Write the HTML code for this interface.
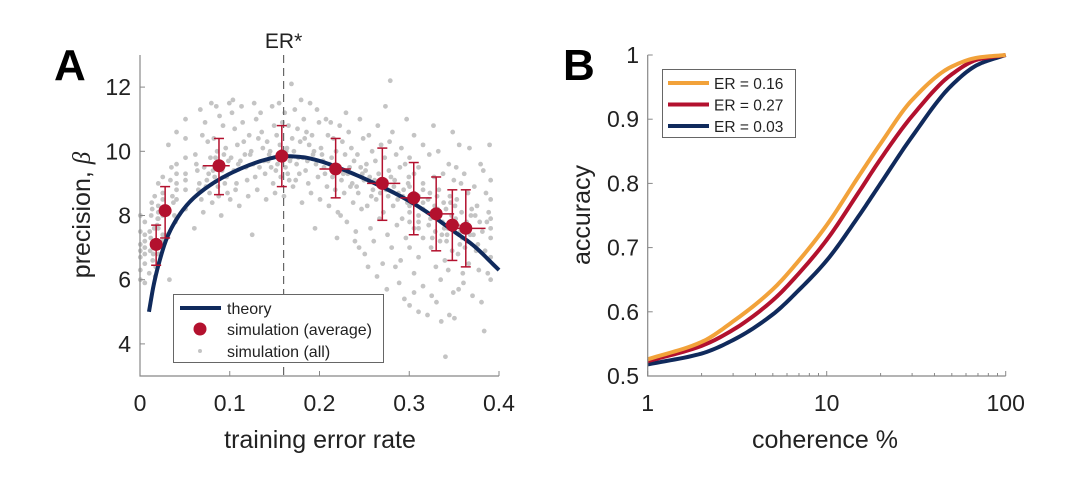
<!DOCTYPE html>
<html><head><meta charset="utf-8"><style>
html,body{margin:0;padding:0;background:#fff;}
svg{display:block;font-family:"Liberation Sans",Arial,sans-serif;}
</style></head><body>
<svg id="fig" width="1080" height="480" viewBox="0 0 1080 480">
<g id="pa"></g>
<g id="pb"></g>
</svg>
<script>
// ---------- Panel A data ----------
const theoryX = [0.01,0.015,0.02,0.03,0.04,0.05,0.06,0.08,0.1,0.12,0.14,0.16,0.18,0.2,0.22,0.25,0.28,0.3,0.32,0.35,0.37,0.4];
const theoryY = [5.0,5.8,6.4,7.3,7.85,8.25,8.55,8.98,9.3,9.55,9.74,9.85,9.82,9.7,9.5,9.15,8.75,8.45,8.1,7.5,7.1,6.3];
const avgX = [0.018,0.028,0.088,0.158,0.218,0.27,0.305,0.33,0.348,0.363];
const avgY = [7.1,8.15,9.55,9.85,9.45,9.0,8.55,8.05,7.7,7.6];
const avgYLo = [6.45,7.3,8.65,8.9,8.55,7.85,7.4,6.9,6.6,6.4];
const avgYHi = [7.7,8.9,10.4,10.8,10.4,10.1,9.65,9.2,8.8,8.8];
const avgXLo = [0.018,0.028,0.07,0.158,0.2,0.253,0.29,0.32,0.34,0.35];
const avgXHi = [0.018,0.028,0.1,0.158,0.235,0.29,0.325,0.35,0.356,0.385];
// simulation (all): x-bin start (width 0.01) and the y values observed in each bin
const simBinX = [0.0,0.01,0.02,0.03,0.04,0.05,0.06,0.07,0.08,0.09,0.10,0.11,0.12,0.13,0.14,0.15,0.16,0.17,0.18,0.19,0.20,0.21,0.22,0.23,0.24,0.25,0.26,0.27,0.28,0.29,0.30,0.31,0.32,0.33,0.34,0.35,0.36,0.37,0.38,0.39];
const simBinY = [
[6.0,6.5,6.9,7.2,7.5,7.8,6.3,7.0,6.7,7.4,8.0,5.9,7.1,6.8],
[6.2,6.6,7.0,7.3,7.6,7.9,8.2,6.4,6.9,7.2,7.7,8.4,6.1,7.5,6.8,7.1,8.0,8.6],
[6.8,7.2,7.6,8.0,8.3,8.7,9.0,7.4,7.9,8.5,6.5,7.1,8.1,9.2],
[7.4,8.0,8.6,9.1,10.2,7.8,8.4,9.5,6.0],
[7.9,8.5,9.0,9.6,10.6,8.8,9.3],
[8.2,8.8,9.3,9.8,10.4,11.0,9.1],
[7.6,8.5,9.0,9.4,9.9,10.5,11.3,8.8,9.6],
[8.1,8.7,9.1,9.5,9.8,10.3,10.9,11.5,9.3,8.9],
[8.4,8.9,9.2,9.6,10.0,10.4,11.1,11.4,9.4,8.6,9.8],
[8.0,8.7,9.0,9.4,9.7,10.1,10.8,11.5,9.2,9.9],
[8.5,9.0,9.4,9.8,10.2,10.7,11.2,9.6,8.8,11.6],
[8.3,9.1,9.5,9.9,10.3,10.9,11.4,9.7],
[8.6,9.2,9.6,10.0,10.5,11.0,11.5,7.4,9.9],
[8.8,9.3,9.7,10.1,10.6,11.2,9.5,10.4],
[8.5,9.0,9.5,9.9,10.3,10.8,11.4,10.0,9.7],
[8.7,9.2,9.6,9.9,10.2,10.5,10.9,11.5,9.4,10.0,9.8],
[8.6,9.1,9.5,9.8,10.1,10.4,10.8,11.2,9.7,10.0,12.1,9.3],
[8.9,9.3,9.6,10.0,10.3,10.7,11.3,11.6,9.8,9.1],
[8.4,9.0,9.4,9.8,10.2,10.6,11.0,11.5,9.7,10.4],
[8.7,9.2,9.6,10.0,10.5,10.9,11.3,7.6,9.9],
[8.5,8.9,9.3,9.7,10.1,10.5,11.0,9.5,9.9],
[8.3,8.8,9.2,9.6,10.0,10.4,10.9,7.3,9.4,9.8],
[8.1,8.7,9.1,9.5,9.9,10.3,10.8,11.2,9.3,8.0],
[7.8,8.4,8.9,9.3,9.7,10.1,10.6,7.2,9.0,9.5],
[7.5,8.2,8.7,9.1,9.5,9.9,10.4,11.0,8.9,9.3,7.0],
[6.8,7.6,8.3,8.8,9.2,9.6,10.0,10.5,9.4,8.6,6.4],
[7.2,7.9,8.5,8.9,9.3,9.7,10.2,10.8,9.1,8.7,6.1],
[6.5,7.4,8.1,8.6,9.0,9.4,9.8,10.3,11.4,12.2,8.8,9.2,5.7],
[7.0,7.7,8.3,8.7,9.1,9.5,9.9,10.6,8.5,8.9,5.9,6.4],
[6.6,7.3,7.9,8.4,8.8,9.2,9.6,10.1,11.0,8.6,9.0,5.4],
[5.2,6.2,7.0,7.6,8.1,8.5,8.9,9.3,9.8,10.5,8.3,8.7,7.8,5.6],
[5.0,5.8,6.7,7.3,7.8,8.2,8.6,9.0,9.5,10.2,8.0,8.4,7.6,8.8],
[4.9,5.5,6.4,7.0,7.5,7.9,8.3,8.7,9.2,9.9,10.8,7.7,8.1,8.5,7.3],
[5.3,6.0,6.6,7.2,7.6,8.0,8.4,8.8,9.3,10.0,7.8,8.2,7.4,8.6,4.7],
[3.6,4.9,5.6,6.3,6.9,7.4,7.8,8.2,8.6,9.1,9.6,10.6,7.6,8.0,7.2,8.4],
[4.8,5.7,6.2,6.8,7.3,7.7,8.1,8.5,9.0,9.5,7.5,7.9,7.1,8.3,10.2],
[5.9,6.5,7.0,7.4,7.8,8.2,8.7,9.3,10.1,7.6,8.0,7.2],
[5.5,6.3,6.9,7.4,7.8,8.3,8.9,9.6,7.1,8.0],
[5.3,6.2,6.9,7.5,8.1,8.7,9.4,10.2,7.8,4.4],
[6.0,6.7,7.3,7.9,8.5,9.1,7.6]
];
const aXTicks = [0,0.1,0.2,0.3,0.4];
const aXTickLabels = ["0","0.1","0.2","0.3","0.4"];
const aYTicks = [4,6,8,10,12];
const aYTickLabels = ["4","6","8","10","12"];
const erStar = 0.16;

// ---------- Panel B data ----------
const cohX = [1,2,3,5,7,10,15,20,30,50,70,100];
const accER016 = [0.526,0.553,0.585,0.635,0.68,0.735,0.81,0.862,0.93,0.982,0.996,1.0];
const accER027 = [0.523,0.547,0.572,0.618,0.66,0.712,0.785,0.838,0.905,0.97,0.993,1.0];
const accER003 = [0.518,0.535,0.556,0.596,0.634,0.68,0.748,0.80,0.873,0.953,0.985,1.0];
const bXTicks = [1,10,100];
const bXTickLabels = ["1","10","100"];
const bYTicks = [0.5,0.6,0.7,0.8,0.9,1];
const bYTickLabels = ["0.5","0.6","0.7","0.8","0.9","1"];
const bSeriesNames = ["ER = 0.16","ER = 0.27","ER = 0.03"];

const NS="http://www.w3.org/2000/svg";
function mk(parent,tag,attrs,text){const e=document.createElementNS(NS,tag);for(const k in attrs)e.setAttribute(k,attrs[k]);if(text!==undefined)e.textContent=text;parent.appendChild(e);return e;}
// monotone cubic (Fritsch-Carlson) interpolation, returns sampled path
function monoPath(xs,ys,sx,sy,n){
  const m=xs.length,d=[],t=new Array(m);
  for(let i=0;i<m-1;i++)d.push((ys[i+1]-ys[i])/(xs[i+1]-xs[i]));
  t[0]=d[0];t[m-1]=d[m-2];
  for(let i=1;i<m-1;i++){if(d[i-1]*d[i]<=0)t[i]=0;else{const h0=xs[i]-xs[i-1],h1=xs[i+1]-xs[i];t[i]=3*(h0+h1)/((2*h1+h0)/d[i-1]+(h1+2*h0)/d[i]);}}
  let p="";
  for(let i=0;i<m-1;i++){const h=xs[i+1]-xs[i];for(let k=(i?1:0);k<=n;k++){const s=k/n,x=xs[i]+s*h;
    const h00=2*s*s*s-3*s*s+1,h10=s*s*s-2*s*s+s,h01=-2*s*s*s+3*s*s,h11=s*s*s-s*s;
    const y=h00*ys[i]+h10*h*t[i]+h01*ys[i+1]+h11*h*t[i+1];
    p+=(p?" L":"M")+sx(x).toFixed(2)+","+sy(y).toFixed(2);}}
  return p;}

// ---------- Panel A ----------
const A=document.getElementById('pa');
const ax=v=>140+v*(499-140)/0.4;
const ay=v=>376-(v-3)*(376-55)/10;
const navy="#102a5c", red="#b3112e", gray="#c4c4c4", axc="#888";
let e;
e=mk(A,'text',{x:54,y:80,'font-size':44,'font-weight':'bold',fill:'#000'},'A');

const dots=mk(A,'g',{});

simBinX.forEach((bx0,b)=>{const ys=simBinY[b];ys.forEach((y,j)=>{
  const x=bx0+0.01*((j*7)%ys.length+0.5)/ys.length;
  const c=mk(dots,'circle',{cx:ax(x),cy:ay(y),r:2.4,fill:gray});
  });});
e=mk(A,'line',{x1:ax(erStar),x2:ax(erStar),y1:55,y2:376,stroke:'#666','stroke-width':1.2,'stroke-dasharray':'8,5'});

e=mk(A,'text',{x:ax(erStar),y:48,'font-size':21,'text-anchor':'middle',fill:'#222'},'ER*');

e=mk(A,'path',{d:monoPath(theoryX,theoryY,ax,ay,10),fill:'none',stroke:navy,'stroke-width':4});

const av=mk(A,'g',{});

avgX.forEach((x,i)=>{const g=mk(av,'g',{stroke:red,'stroke-width':1.5});

const cx=ax(x),cy=ay(avgY[i]);
mk(g,'line',{x1:cx,x2:cx,y1:ay(avgYLo[i]),y2:ay(avgYHi[i])});
mk(g,'line',{x1:cx-5,x2:cx+5,y1:ay(avgYLo[i]),y2:ay(avgYLo[i])});
mk(g,'line',{x1:cx-5,x2:cx+5,y1:ay(avgYHi[i]),y2:ay(avgYHi[i])});
if(avgXHi[i]>avgXLo[i])mk(g,'line',{x1:ax(avgXLo[i]),x2:ax(avgXHi[i]),y1:cy,y2:cy});
mk(g,'circle',{cx:cx,cy:cy,r:6.5,fill:red,stroke:'none'});});
e=mk(A,'path',{d:'M140,55 V376 H499',fill:'none',stroke:axc,'stroke-width':1.2});

aXTicks.forEach((t,i)=>{mk(A,'line',{x1:ax(t),x2:ax(t),y1:376,y2:371,stroke:axc});
e=mk(A,'text',{x:ax(t),y:411,'font-size':23,'text-anchor':'middle',fill:'#222'},aXTickLabels[i]);});
aYTicks.forEach((t,i)=>{mk(A,'line',{x1:140,x2:145,y1:ay(t),y2:ay(t),stroke:axc});
e=mk(A,'text',{x:131,y:ay(t)+8,'font-size':23,'text-anchor':'end',fill:'#222'},aYTickLabels[i]);});
e=mk(A,'text',{x:320,y:448,'font-size':25,'text-anchor':'middle',fill:'#222'},'training error rate');

e=mk(A,'text',{transform:'translate(90,215) rotate(-90)','font-size':25,'text-anchor':'middle',fill:'#222'});

e.innerHTML='precision, <tspan font-style="italic" font-family="Liberation Serif">β</tspan>';
const LA=mk(A,'g',{});

mk(LA,'rect',{x:173.5,y:294.5,width:210,height:68,fill:'#fff',stroke:'#666','stroke-width':1});
mk(LA,'line',{x1:180,x2:221,y1:308,y2:308,stroke:navy,'stroke-width':4});
mk(LA,'text',{x:227,y:314,'font-size':16,fill:'#222'},'theory');
mk(LA,'circle',{cx:200,cy:329,r:6.5,fill:red});
mk(LA,'text',{x:227,y:335,'font-size':16,fill:'#222'},'simulation (average)');
mk(LA,'circle',{cx:200,cy:351,r:2,fill:gray});
mk(LA,'text',{x:227,y:357,'font-size':16,fill:'#222'},'simulation (all)');

// ---------- Panel B ----------
const B=document.getElementById('pb');
const bx=v=>647.7+Math.log10(v)*(1005.7-647.7)/2;
const bxl=l=>647.7+l*(1005.7-647.7)/2;
const by=v=>376-(v-0.5)*(376-55)/0.5;
e=mk(B,'text',{x:563,y:80,'font-size':44,'font-weight':'bold',fill:'#000'},'B');

const cols=["#f2a23a","#b3112e","#102a5c"];
const series=[accER016,accER027,accER003];
const logC=cohX.map(c=>Math.log10(c));
[2,1,0].forEach(k=>{const p=mk(B,'path',{d:monoPath(logC,series[k],bxl,by,12),fill:'none',stroke:cols[k],'stroke-width':4});
});
e=mk(B,'path',{d:'M647.7,55 V376 H1005.7',fill:'none',stroke:axc,'stroke-width':1.2});

[2,3,4,5,6,7,8,9,20,30,40,50,60,70,80,90].forEach(m=>mk(B,'line',{x1:bx(m),x2:bx(m),y1:376,y2:373,stroke:axc}));
bXTicks.forEach((t,i)=>{mk(B,'line',{x1:bx(t),x2:bx(t),y1:376,y2:371,stroke:axc});
e=mk(B,'text',{x:bx(t),y:411,'font-size':23,'text-anchor':'middle',fill:'#222'},bXTickLabels[i]);});
bYTicks.forEach((t,i)=>{mk(B,'line',{x1:647.7,x2:652.7,y1:by(t),y2:by(t),stroke:axc});
e=mk(B,'text',{x:639,y:by(t)+8,'font-size':23,'text-anchor':'end',fill:'#222'},bYTickLabels[i]);});
e=mk(B,'text',{x:825,y:448,'font-size':25,'text-anchor':'middle',fill:'#222'},'coherence %');

e=mk(B,'text',{transform:'translate(590,215) rotate(-90)','font-size':25,'text-anchor':'middle',fill:'#222'},'accuracy');

const LB=mk(B,'g',{});

mk(LB,'rect',{x:662.5,y:69.5,width:133,height:68,fill:'#fff',stroke:'#666','stroke-width':1});
bSeriesNames.forEach((n,i)=>{const y=83+i*21.5;
const l=mk(LB,'line',{x1:668,x2:709,y1:y,y2:y,stroke:cols[i],'stroke-width':4});

mk(LB,'text',{x:714,y:y+6,'font-size':15.5,fill:'#222'},n);});
</script>
</body></html>
